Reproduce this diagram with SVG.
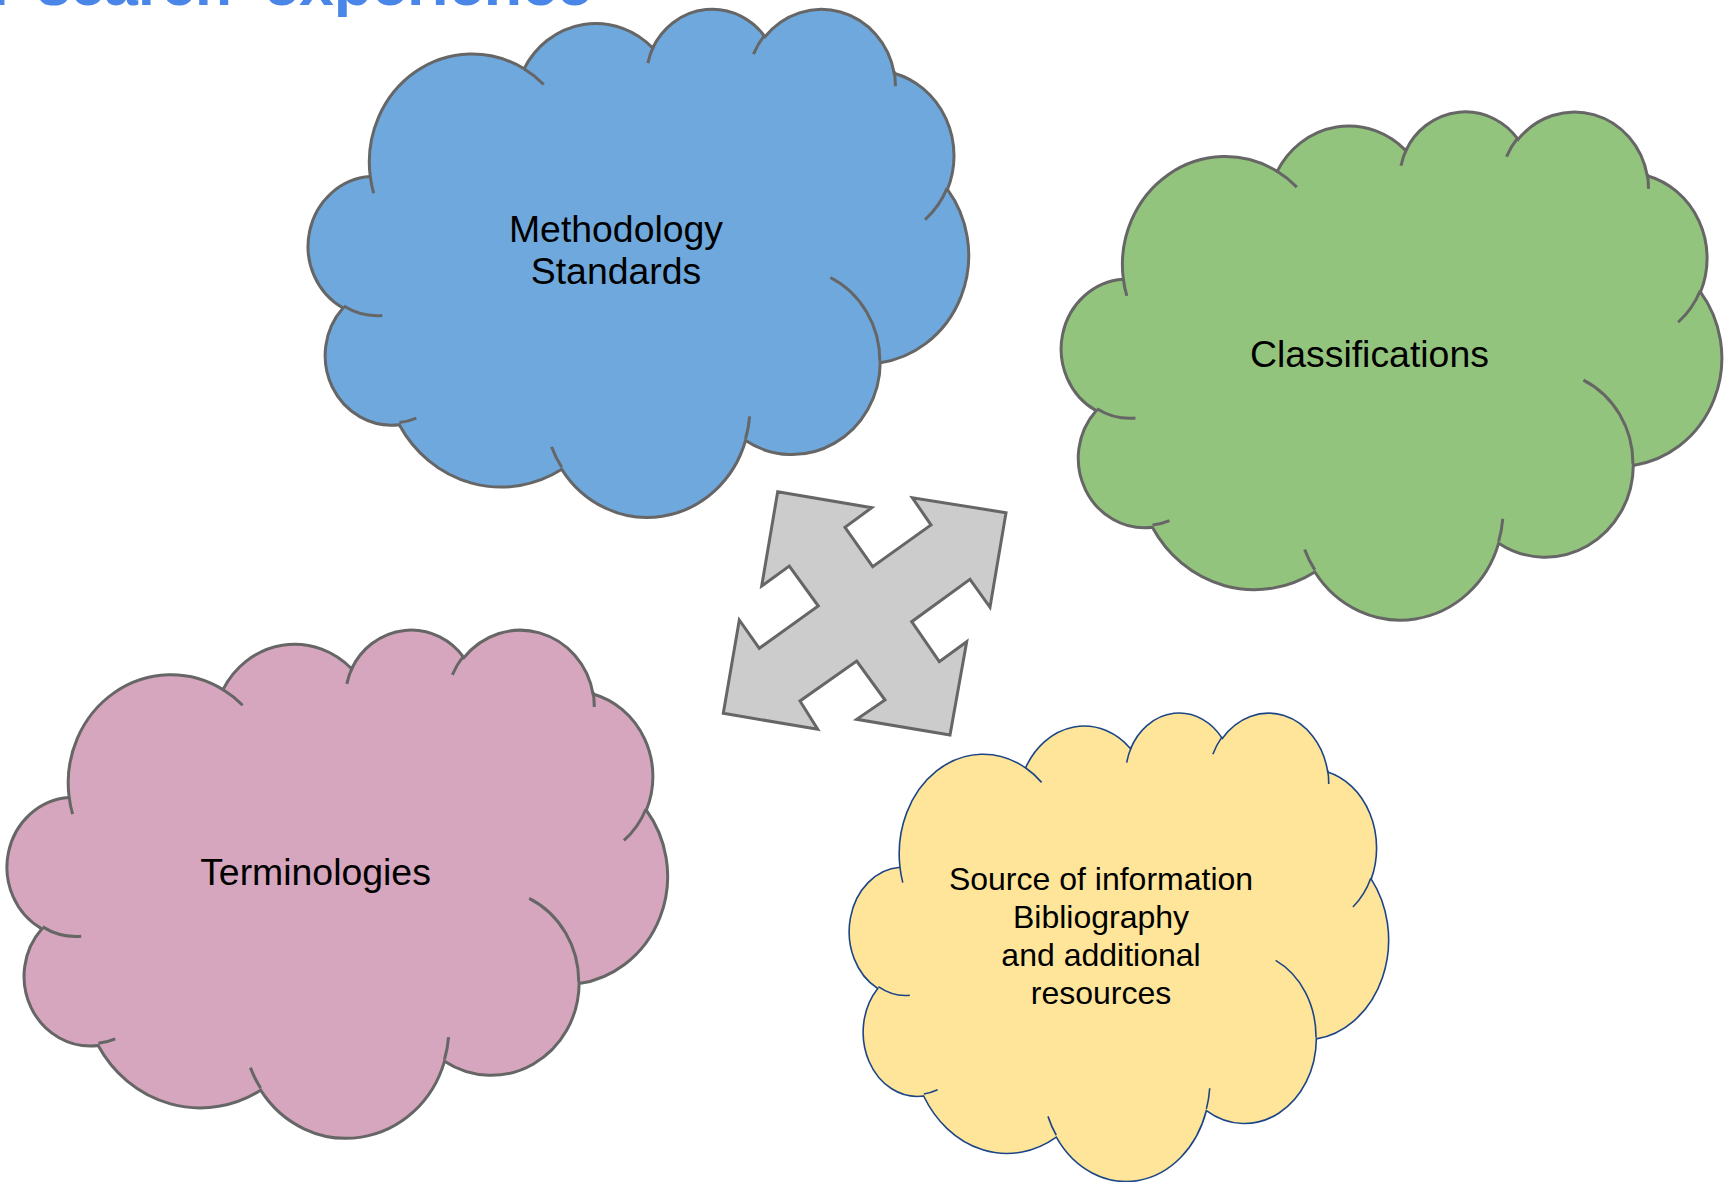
<svg xmlns="http://www.w3.org/2000/svg" xmlns:xlink="http://www.w3.org/1999/xlink" width="1729" height="1182" viewBox="0 0 1729 1182">
  <style>
    .title { font-family: "Liberation Sans", Arial, sans-serif; font-weight: bold; font-size: 60px; fill: #4a86e8; }
    .label { font-family: "Liberation Sans", Arial, sans-serif; font-size: 37.4px; fill: #000000; text-anchor: middle; }
    .label-sm { font-family: "Liberation Sans", Arial, sans-serif; font-size: 32px; fill: #000000; text-anchor: middle; }
    .grey-line { stroke: #666666; stroke-width: 3; }
    .navy-line { stroke: #1c4587; stroke-width: 1.6; }
    .blue { fill: #6fa8dc; }
    .green { fill: #93c47d; }
    .pink { fill: #d5a6bd; }
    .yellow { fill: #ffe599; }
    .inner { fill: none; }
    .arrow { fill: #cccccc; stroke: #666666; stroke-width: 3; stroke-linejoin: miter; }
  </style>
  <defs>
    <path id="cloudOuter" vector-effect="non-scaling-stroke" d="M39.00,143.70 A67.53,91.90 0 0 1 140.07,52.04 A53.33,72.67 0 0 1 224.58,34.34 A43.65,59.45 0 0 1 298.36,24.84 A48.57,65.95 0 0 1 383.22,55.79 A53.33,72.73 0 0 1 418.22,154.63 A67.75,92.20 0 0 1 374.06,302.04 A57.85,78.67 0 0 1 285.58,368.14 A67.52,92.15 0 0 1 164.82,392.65 A77.20,105.43 0 0 1 58.05,354.69 A43.60,59.18 0 0 1 21.12,255.50 A43.45,59.45 0 0 1 39.00,143.70 Z"/>
    <path id="cloudInner" vector-effect="non-scaling-stroke" d="M46.93,261.77 A43.45,59.45 0 0 1 21.59,253.80 M69.28,348.99 A43.60,59.18 0 0 1 58.19,352.81 M164.78,390.90 A67.52,92.15 0 0 1 158.10,373.50 M288.27,347.51 A67.52,92.15 0 0 1 285.60,366.60 M341.29,229.54 A57.85,78.67 0 0 1 373.81,300.90 M417.98,153.54 A53.33,72.73 0 0 1 403.50,180.31 M383.24,54.26 A48.57,65.95 0 0 1 384.00,66.90 M290.78,39.52 A48.57,65.95 0 0 1 298.20,23.40 M221.41,47.20 A43.65,59.45 0 0 1 225.39,32.26 M140.00,51.92 A67.53,91.90 0 0 1 152.98,65.39 M41.27,157.89 A67.53,91.90 0 0 1 39.00,143.70"/>
  </defs>

  <g id="title">
    <text class="title" y="5"><tspan x="-8">r</tspan><tspan x="37" textLength="195" lengthAdjust="spacingAndGlyphs">search</tspan><tspan x="264" textLength="328" lengthAdjust="spacingAndGlyphs">experience</tspan></text>
  </g>

  <g id="node-methodology-standards">
    <g transform="translate(310.9,7.6) scale(1.522,1.176)">
      <use xlink:href="#cloudOuter" href="#cloudOuter" class="blue grey-line"/>
      <use xlink:href="#cloudInner" href="#cloudInner" class="inner grey-line"/>
    </g>
    <text class="label" x="616" y="242">Methodology</text>
    <text class="label" x="616" y="284">Standards</text>
  </g>

  <g id="node-classifications">
    <g transform="translate(1064,110.2) scale(1.522,1.176)">
      <use xlink:href="#cloudOuter" href="#cloudOuter" class="green grey-line"/>
      <use xlink:href="#cloudInner" href="#cloudInner" class="inner grey-line"/>
    </g>
    <text class="label" x="1369.4" y="367">Classifications</text>
  </g>

  <g id="node-terminologies">
    <g transform="translate(9.8,628.4) scale(1.522,1.176)">
      <use xlink:href="#cloudOuter" href="#cloudOuter" class="pink grey-line"/>
      <use xlink:href="#cloudInner" href="#cloudInner" class="inner grey-line"/>
    </g>
    <text class="label" x="315.5" y="884.5">Terminologies</text>
  </g>

  <g id="node-sources">
    <g transform="translate(851.5,711.5) scale(1.2427,1.084)">
      <use xlink:href="#cloudOuter" href="#cloudOuter" class="yellow navy-line"/>
      <use xlink:href="#cloudInner" href="#cloudInner" class="inner navy-line"/>
    </g>
    <text class="label-sm" x="1101" y="889.5">Source of information</text>
    <text class="label-sm" x="1101" y="927.8">Bibliography</text>
    <text class="label-sm" x="1101" y="966.1">and additional</text>
    <text class="label-sm" x="1101" y="1004.4">resources</text>
  </g>

  <g id="connectors">
    <polygon id="quad-arrow" class="arrow" points="777.7,491.7 871.7,507.7 845,527.3 872.7,566.7 931,525 912.3,497.7 1006,512.7 990,607.3 970,579.3 911.7,621.7 939.3,661.7 966.7,641.7 950,735 856.7,719.3 885,700 856.7,661 800,701 817.7,729.3 723.3,713.3 739.3,620 759.3,648.3 818.3,606 789.3,566 761.7,586"/>
  </g>
</svg>
